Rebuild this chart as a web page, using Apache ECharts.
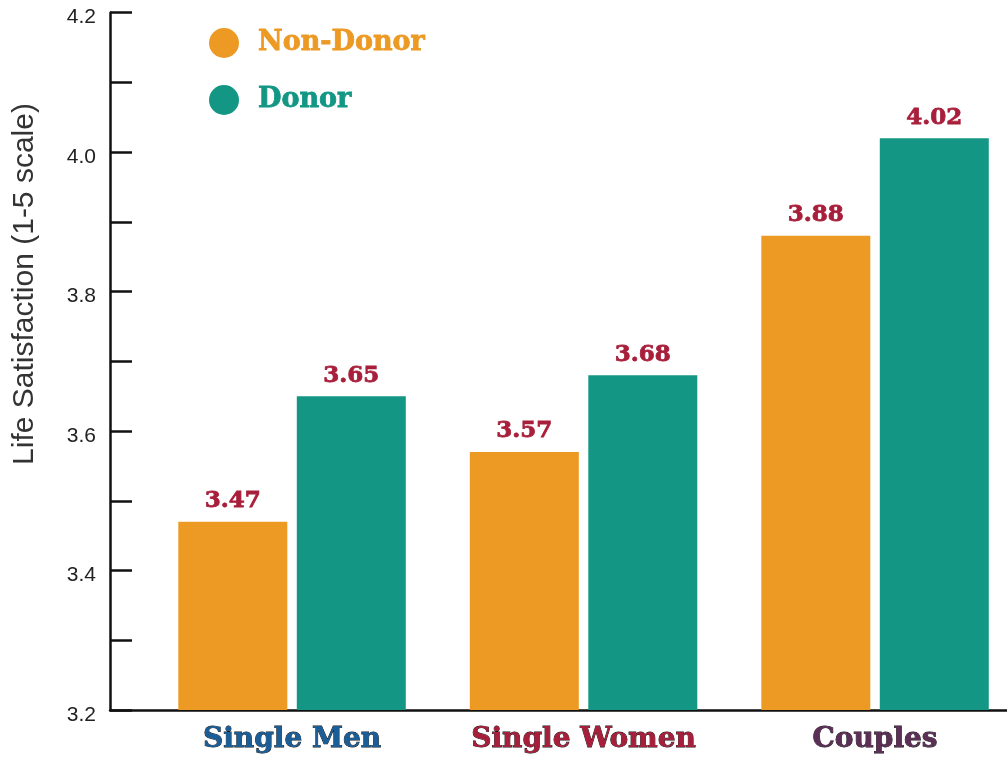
<!DOCTYPE html>
<html>
<head>
<meta charset="utf-8">
<script src="https://cdn.jsdelivr.net/npm/echarts@6/dist/echarts.min.js"></script>
<style>
html,body{margin:0;padding:0;background:#fff;overflow:hidden;}
#main{width:1030px;height:759px;}
</style>
</head>
<body>
<div id="main"></div>
<script>
var categories = ['Single Men', 'Single Women', 'Couples'];
var categoryColors = ['#1b5e97', '#a81f3b', '#5b2f56'];
var nonDonor = [3.47, 3.57, 3.88];
var donor = [3.65, 3.68, 4.02];
var yMin = 3.2, yMax = 4.2, yStep = 0.1;

var slab = '"DejaVu Serif", serif';
var sans = '"Liberation Sans", Arial, sans-serif';

// 图表比窗口宽一点, 最右边的柱子贴着边
var myChart = echarts.init(document.getElementById('main'));

// 数值标签
var valueLabel = {
	show: true,
	position: 'top',
	distance: 9,
	color: '#a81f3b',
	fontFamily: slab,
	fontWeight: 'bold',
	fontSize: 23,
	textBorderColor: '#a81f3b',
	textBorderWidth: 0.8,
	formatter: function(p){ return p.value.toFixed(2); }
};

var option = {
	animation: false,
	legend: {
		orient: 'vertical',
		left: 204,
		top: 23,
		itemWidth: 30,
		itemHeight: 30,
		itemGap: 27,
		icon: 'circle',
		data: [
			{name: 'Non-Donor', textStyle: {color: '#ec9a24', textBorderColor: '#ec9a24'}},
			{name: 'Donor', textStyle: {color: '#139784', textBorderColor: '#139784'}}
		],
		textStyle: {
			fontFamily: slab,
			fontWeight: 'bold',
			fontSize: 27,
			textBorderWidth: 0.8,
			padding: [0, 0, 0, 14]
		}
	},
	grid: [
		{left: 146.3, width: 874.5, top: 12.7, bottom: 49},
		{left: 110, right: 23, top: 12.7, bottom: 49}
	],
	graphic: [{
		type: 'text',
		x: 25,
		y: 284,
		rotation: Math.PI / 2,
		style: {
			text: 'Life Satisfaction (1-5 scale)',
			fill: '#333',
			font: '30px "Liberation Sans", Arial, sans-serif',
			align: 'center',
			verticalAlign: 'middle'
		}
	}],
	xAxis: [
		{
			type: 'category',
			gridIndex: 0,
			data: categories,
			axisLine: {show: false},
			axisTick: {show: false},
			axisLabel: {
				interval: 0,
				margin: 16,
				fontFamily: slab,
				fontWeight: 'bold',
				fontSize: 28,
				textBorderWidth: 0.8,
				textBorderColor: function(v){ return categoryColors[categories.indexOf(v)]; },
				color: function(v, i){ return categoryColors[categories.indexOf(v)]; }
			}
		},
		{
			type: 'category',
			gridIndex: 1,
			data: categories,
			axisLine: {show: true, lineStyle: {color: '#111', width: 2.5}},
			axisTick: {show: false},
			axisLabel: {show: false}
		}
	],
	yAxis: [
		{
			type: 'value',
			gridIndex: 0,
			min: yMin,
			max: yMax,
			show: false
		},
		{
			type: 'value',
			gridIndex: 1,
			min: yMin,
			max: yMax,
			interval: yStep,
			axisLine: {show: true, lineStyle: {color: '#111', width: 2.5}},
			axisTick: {show: true, inside: true, length: 22, lineStyle: {color: '#111', width: 2.5}},
			splitLine: {show: false},
			axisLabel: {
				margin: 14,
				fontFamily: sans,
				fontSize: 21,
				color: '#222',
				verticalAlign: 'top',
				lineHeight: 10,
				formatter: function(v){
					return Math.round(v * 10) % 2 === 0 ? v.toFixed(1) : '';
				}
			}
		}
	],
	series: [
		{
			name: 'Non-Donor',
			type: 'bar',
			xAxisIndex: 0,
			yAxisIndex: 0,
			barWidth: 109,
			barGap: '8.7%',
			itemStyle: {color: '#ec9a24'},
			label: valueLabel,
			data: nonDonor
		},
		{
			name: 'Donor',
			type: 'bar',
			xAxisIndex: 0,
			yAxisIndex: 0,
			barWidth: 109,
			barGap: '8.7%',
			itemStyle: {color: '#139784'},
			label: valueLabel,
			data: donor
		}
	]
};

myChart.setOption(option);
window.addEventListener('resize', function(){
	myChart.resize();
});
</script>
</body>
</html>
